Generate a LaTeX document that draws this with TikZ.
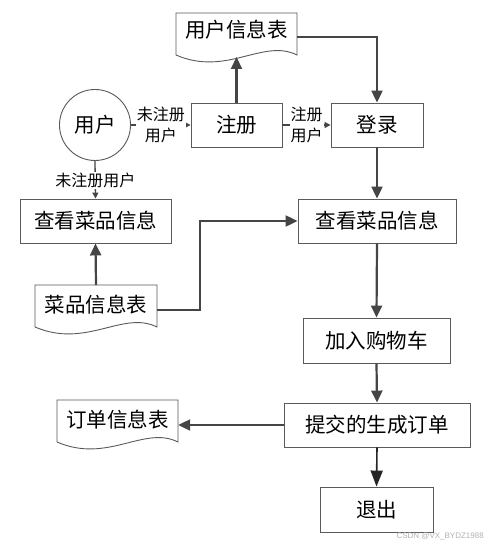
\documentclass[tikz,border=0pt]{standalone}
\usepackage{fontspec}
\setmainfont{Noto Sans CJK SC}
\newfontfamily\wmfont{Liberation Sans}
\usetikzlibrary{arrows.meta,shadows}
\definecolor{boxline}{HTML}{5A5A5A}
\definecolor{arrline}{HTML}{454545}
\tikzset{
  procbox/.style={draw=boxline, line width=0.9pt, fill=white, minimum height=44pt, inner sep=0pt,
    font=\fontsize{20.5}{24}\selectfont,
    drop shadow={shadow xshift=1.2pt, shadow yshift=-1.2pt, fill=black!10}},
  docarea/.style={draw=none, inner sep=0pt},
  doctext/.style={font=\fontsize{20.5}{24}\selectfont, inner sep=0pt},
  docline/.style={draw=boxline, line width=0.9pt, fill=white},
  flowarrow/.style={draw=arrline, line width=2.2pt, -{Triangle[length=12pt,width=11pt]}},
  thinarrow/.style={draw=arrline, line width=1.3pt, -{Triangle[length=6pt,width=6pt]}},
  endarrow/.style={draw=black!85, line width=1.6pt, -{Triangle[length=16pt,width=12pt]}},
  lbl/.style={fill=white, inner sep=1pt, align=center, font=\fontsize{16}{20.5}\selectfont},
}
\newcommand{\docshape}[4]{% L R T B
  \pgfmathsetmacro{\dw}{#2-#1}
  \path[docline] (#1,#3) -- (#2,#3) -- (#2,#4)
    .. controls ({#1+0.72*\dw},{#4-17}) and ({#1+0.42*\dw},{#4+22}) .. (#1,#4) -- cycle;
}
\begin{document}
\begin{tikzpicture}[x=1pt,y=-1pt]
\useasboundingbox (0,0) rectangle (487,548);
\fill[white] (0,0) rectangle (487,548);

% documents
\docshape{176}{297}{13}{55}
\node[docarea, minimum width=121pt, minimum height=42pt] (ut) at (236.5,34) {};
\node[doctext] (uttext) at (236.5,30) {用户信息表};
\coordinate (utb) at (236.5,57);

\docshape{35}{157}{285}{327}
\node[docarea, minimum width=122pt, minimum height=42pt] (ct) at (96,306) {};
\node[doctext] (cttext) at (96,305) {菜品信息表};

\docshape{57}{178}{400}{442}
\node[docarea, minimum width=121pt, minimum height=42pt] (ot) at (117.5,421) {};
\node[doctext] (ottext) at (117.5,420) {订单信息表};

% user circle
\node[circle, draw=boxline, line width=0.9pt, minimum size=71pt, inner sep=0pt,
  font=\fontsize{20.5}{24}\selectfont] (user) at (95,125) {用户};

% process boxes
\node[procbox, minimum width=91pt] (reg) at (236.5,125) {注册};
\node[procbox, minimum width=92pt] (login) at (377,125) {登录};
\node[procbox, minimum width=151pt] (viewl) at (95.5,221) {查看菜品信息};
\node[procbox, minimum width=158pt] (viewr) at (377,221) {查看菜品信息};
\node[procbox, minimum width=147pt, minimum height=45pt] (cart) at (376.5,340.5) {加入购物车};
\node[procbox, minimum width=186pt] (submit) at (377,425) {提交的生成订单};
\node[procbox, minimum width=113pt, minimum height=45pt] (quit) at (376.5,509.5) {退出};

% thin arrows with labels
\draw[thinarrow] (user.east) -- (reg.west)
  node[lbl, pos=0.5] (l1) {未注册\\用户};
\draw[thinarrow] (reg.east) -- (login.west)
  node[lbl, pos=0.5] (l2) {注册\\用户};
\draw[thinarrow] (user.south) -- (viewl.north)
  node[lbl, pos=0.52] (l3) {未注册用户};

% thick arrows
\draw[flowarrow] (reg.north) -- (utb);
\coordinate (c1) at (377,37);
\draw[flowarrow] (ut.east |- c1) -- (c1) -- (login.north);
\draw[flowarrow] (login.south) -- (viewr.north);
\draw[flowarrow] (ct.north) -- (viewl.south);
\coordinate (c2) at (200,310);
\coordinate (c3) at (200,221);
\draw[flowarrow] (ct.east |- c2) -- (c2) -- (c3) -- (viewr.west);
\draw[flowarrow] (viewr.south) -- (cart.north);
\draw[flowarrow] (cart.south) -- (submit.north);
\draw[flowarrow] (submit.west) -- (ot.east |- submit.west);
\draw[endarrow] (submit.south) -- (quit.north);

% watermark
\node[font=\wmfont\fontsize{8}{9}\selectfont, text=black!30, anchor=east, inner sep=0pt] (wm) at (484,536) {CSDN @VX\_BYDZ1988};
\end{tikzpicture}
\end{document}
